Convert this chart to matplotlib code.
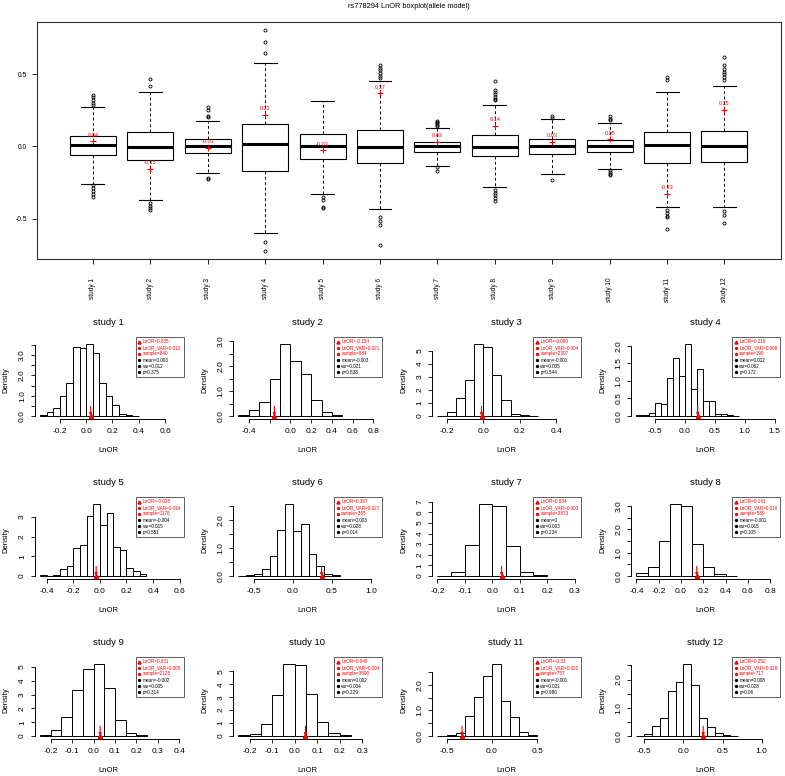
import numpy as np
import matplotlib.pyplot as plt
from matplotlib.lines import Line2D

plt.rcParams['font.family'] = ['Liberation Sans', 'DejaVu Sans']

studies = ['study %d' % i for i in range(1, 13)]

# observed LnOR per study and the permutation summary shown in each legend
lnor = [0.035, -0.154, -0.009, 0.219, -0.028, 0.367, 0.034, 0.141, 0.031, 0.048, -0.33, 0.252]
lnor_var = [0.012, 0.021, 0.004, 0.068, 0.014, 0.027, 0.003, 0.016, 0.005, 0.004, 0.022, 0.028]
sample = [840, 884, 2307, 190, 1176, 365, 3873, 589, 2125, 3690, 757, 717]
perm_mean = [0.003, -0.003, -0.001, 0.012, -0.004, 0.003, 0, -0.001, -0.002, 0.002, -0.001, 0.008]
perm_var = [0.012, 0.021, 0.005, 0.062, 0.015, 0.028, 0.003, 0.015, 0.005, 0.004, 0.021, 0.028]
pval = [0.375, 0.838, 0.544, 0.172, 0.551, 0.014, 0.234, 0.105, 0.314, 0.229, 0.986, 0.06]

# boxplot summary of the permuted LnOR
q1 = [-0.062, -0.092, -0.046, -0.173, -0.085, -0.113, -0.037, -0.069, -0.053, -0.041, -0.118, -0.11]
med = [0.012, -0.005, 0.0, 0.018, 0.0, -0.005, 0.0, -0.002, 0.0, 0.0, 0.012, 0.005]
q3 = [0.069, 0.097, 0.048, 0.152, 0.083, 0.113, 0.032, 0.076, 0.048, 0.041, 0.097, 0.11]
whislo = [-0.258, -0.369, -0.182, -0.60, -0.327, -0.435, -0.134, -0.283, -0.194, -0.154, -0.42, -0.417]
whishi = [0.27, 0.38, 0.175, 0.576, 0.313, 0.452, 0.131, 0.288, 0.19, 0.164, 0.376, 0.42]
fliers = [
    [0.29, 0.30, 0.32, 0.34, 0.355, -0.27, -0.29, -0.31, -0.33, -0.35],
    [0.42, 0.465, -0.39, -0.41, -0.43, -0.44],
    [0.205, 0.21, 0.25, 0.27, -0.22, -0.225],
    [0.65, 0.726, 0.806, -0.664, -0.723],
    [-0.35, -0.37, -0.42, -0.43],
    [0.475, 0.49, 0.51, 0.53, 0.545, 0.562, -0.486, -0.516, -0.544, -0.682],
    [0.14, 0.15, 0.16, 0.17, 0.177, -0.14, -0.17],
    [0.32, 0.33, 0.345, 0.36, 0.375, 0.39, 0.454, -0.30, -0.32, -0.34, -0.36, -0.38],
    [0.20, 0.21, -0.23],
    [0.18, 0.19, 0.21, -0.165, -0.18, -0.19, -0.20],
    [0.463, 0.484, -0.44, -0.46, -0.48, -0.49, -0.574],
    [0.459, 0.479, 0.5, 0.518, 0.539, 0.562, 0.622, -0.445, -0.475, -0.53],
]

# histogram densities (first break, bin width, densities)
hist_start = [-0.35, -0.5, -0.25, -0.8, -0.45, -0.7, -0.2, -0.4, -0.25, -0.25, -0.6, -0.6]
hist_width = [0.05, 0.1, 0.05, 0.1, 0.05, 0.1, 0.05, 0.1, 0.05, 0.05, 0.1, 0.1]
hist_dens = [
    [0.05, 0.2, 0.38, 0.98, 1.64, 3.41, 3.33, 3.56, 3.13, 1.62, 1.0, 0.54, 0.08, 0.05, 0.02],
    [0.04, 0.25, 0.55, 1.5, 2.9, 2.22, 1.7, 0.65, 0.15, 0.03],
    [0.03, 0.3, 1.42, 2.79, 5.56, 5.33, 3.12, 1.24, 0.15, 0.08, 0.03],
    [0.02, 0.03, 0.1, 0.36, 0.34, 1.08, 1.66, 1.14, 2.06, 0.76, 1.35, 0.44, 0.44, 0.07, 0.07, 0.03, 0.01],
    [0.03, 0.02, 0.05, 0.34, 0.5, 1.43, 1.6, 3.04, 3.68, 2.61, 3.2, 1.5, 1.35, 0.39, 0.24, 0.08],
    [0.01, 0.03, 0.07, 0.24, 0.7, 1.66, 2.58, 1.62, 1.87, 0.78, 0.34, 0.07, 0.03],
    [0.01, 0.38, 2.95, 6.8, 6.6, 2.8, 0.38, 0.08],
    [0.13, 0.37, 1.51, 3.1, 2.99, 1.39, 0.37, 0.09, 0.02],
    [0.05, 0.43, 1.39, 3.32, 4.88, 5.24, 3.49, 1.13, 0.19, 0.07],
    [0.05, 0.13, 0.92, 3.2, 5.59, 5.51, 3.23, 1.1, 0.23, 0.05],
    [0.02, 0.05, 0.12, 0.8, 1.53, 2.37, 2.83, 1.36, 0.75, 0.14, 0.04],
    [0.01, 0.06, 0.34, 0.65, 1.61, 1.92, 2.56, 1.8, 0.64, 0.32, 0.09, 0.04, 0.01],
]
hist_xmax = [0.69, 0.82, 0.50, 1.48, 0.58, 1.06, 0.30, 0.83, 0.39, 0.36, 0.91, 1.15]
xstep = [0.2, 0.2, 0.2, 0.5, 0.2, 0.5, 0.1, 0.2, 0.1, 0.1, 0.5, 0.5]
x_hidden = {1: [-0.2]}
ystep = [0.5, 0.5, 1, 0.5, 1, 0.5, 1, 0.5, 1, 1, 0.5, 0.5]
y_label_every = [2, 2, 1, 1, 1, 2, 1, 2, 1, 1, 2, 2]
yfmt = ['%.1f', '%.1f', '%d', '%.1f', '%d', '%.1f', '%d', '%.1f', '%d', '%d', '%.1f', '%.1f']

W, H = 785, 776
fig = plt.figure(figsize=(W / 100, H / 100), dpi=100)


def px_axes(left, top, width, height):
    return fig.add_axes([left / W, 1 - (top + height) / H, width / W, height / H])


# ---- boxplot
ax = px_axes(36.7, 22, 744, 237)
pos = np.arange(1, 13)
stats = []
for i in range(12):
    stats.append(dict(med=med[i], q1=q1[i], q3=q3[i], whislo=whislo[i], whishi=whishi[i],
                      fliers=fliers[i], label=studies[i]))
ax.bxp(stats, positions=pos, widths=0.8, capwidths=0.4, patch_artist=True,
       boxprops=dict(facecolor='white', edgecolor='black', linewidth=0.8),
       medianprops=dict(color='black', linewidth=2.2, solid_capstyle='butt'),
       whiskerprops=dict(color='black', linewidth=0.7, linestyle=(0, (3, 2.5))),
       capprops=dict(color='black', linewidth=0.8),
       flierprops=dict(marker='o', markersize=2.2, markerfacecolor='none',
                       markeredgecolor='black', markeredgewidth=0.6))
ax.plot(pos, lnor, '+', color='red', ms=5, mew=0.8, zorder=5)
for p, v in zip(pos, lnor):
    ax.annotate('%.2f' % v, (p, v), xytext=(0, 4.5), textcoords='offset points',
                ha='center', va='center', color='red', fontsize=4)
ax.set_xlim(0.02, 12.98)
ax.set_ylim(-0.78, 0.862)
ax.set_yticks([-0.5, 0.0, 0.5])
ax.set_yticklabels(['-0.5', '0.0', '0.5'])
ax.set_xticks(pos)
ax.set_xticklabels(studies, rotation=90)
ax.tick_params(axis='y', labelsize=4.8, length=3.5, width=0.6, pad=3.5)
ax.tick_params(axis='x', labelsize=4.7, length=3.5, width=0.6, pad=10)
for s in ax.spines.values():
    s.set_linewidth(0.8)
    s.set_color('#333333')
fig.text((36.7 + 372) / W, 1 - 6 / H, 'rs778294 LnOR boxplot(allele model)',
         ha='center', va='center', fontsize=5.3)

# ---- histograms
col_left = [34.5, 233, 432, 631]
row_bottom = [418.9, 578.9, 738.9]
pw, ph = 148, 78

for i in range(12):
    r, c = divmod(i, 4)
    ax = px_axes(col_left[c], row_bottom[r] - ph, pw, ph)
    dens = np.array(hist_dens[i])
    edges = hist_start[i] + hist_width[i] * np.arange(len(dens) + 1)
    ax.bar(edges[:-1], dens, width=hist_width[i], align='edge', facecolor='white',
           edgecolor='black', linewidth=0.7)

    lo, hi = hist_start[i], hist_xmax[i]
    pad = 0.04 * (hi - lo)
    ax.set_xlim(lo - pad, hi + pad)
    ymax = dens.max()
    ax.set_ylim(-0.04 * ymax, 1.04 * ymax)

    xs = xstep[i]
    xt = np.arange(np.ceil((lo - pad) / xs - 1e-9), np.floor((hi + pad) / xs + 1e-9) + 1) * xs
    xt = np.round(xt, 3)
    ax.set_xticks(xt)
    hidden = x_hidden.get(i, [])
    ax.set_xticklabels(['' if any(abs(t - h) < 1e-6 for h in hidden) else ('%g' % t if t != 0 else '0.0')
                        for t in xt])
    ax.set_xticklabels([lab if lab == '' else ('%.1f' % t) for lab, t in
                        zip([tl.get_text() for tl in ax.get_xticklabels()], xt)])

    ys = ystep[i]
    yt = np.arange(0, np.floor(1.04 * ymax / ys + 1e-9) + 1) * ys
    ax.set_yticks(yt)
    ax.set_yticklabels([(yfmt[i] % t) if k % y_label_every[i] == 0 else ''
                        for k, t in enumerate(yt)])

    ax.spines['top'].set_visible(False)
    ax.spines['right'].set_visible(False)
    ax.spines['left'].set_bounds(yt[0], yt[-1])
    ax.spines['bottom'].set_bounds(xt[0], xt[-1])
    for s in ('left', 'bottom'):
        ax.spines[s].set_linewidth(0.7)
    ax.tick_params(axis='x', labelsize=6, length=2.9, width=0.6, pad=3.8)
    ax.tick_params(axis='y', labelsize=6, length=2.9, width=0.6, pad=3.2, labelrotation=90)
    for tl in ax.get_yticklabels():
        tl.set_verticalalignment('center')

    ax.set_ylabel('Density', fontsize=5.5)
    ax.yaxis.set_label_coords(-25 / pw, 0.5)
    ax.set_xlabel('LnOR', fontsize=5.5)
    ax.xaxis.set_label_coords(0.5, -28 / ph)
    ax.text(0.5, 1 + 18 / ph, studies[i], transform=ax.transAxes, ha='center',
            va='center', fontsize=6.8)

    # observed LnOR marker
    ax.annotate('', xy=(lnor[i], 0), xytext=(0, 7), textcoords='offset points',
                arrowprops=dict(arrowstyle='-|>', color='red', lw=0.8, mutation_scale=4,
                                shrinkA=0, shrinkB=0))
    ax.plot(lnor[i], 0, '^', color='red', ms=3, clip_on=False, zorder=6)

    labels = ['LnOR=%g' % lnor[i], 'LnOR_VAR=%g' % lnor_var[i], 'sample=%d' % sample[i],
              'mean=%g' % perm_mean[i], 'var=%g' % perm_var[i], 'p=%g' % pval[i]]
    colors = ['red', 'red', 'red', 'black', 'black', 'black']
    markers = ['^', 'o', 'o', 'o', 'o', 'o']
    sizes = [2.2, 1.4, 1.4, 1.4, 1.4, 1.4]
    handles = [Line2D([], [], linestyle='none', marker=m, color=col, ms=sz)
               for m, col, sz in zip(markers, colors, sizes)]
    leg = ax.legend(handles, labels, loc='upper right', bbox_to_anchor=(1 + 1 / pw, 1 + 4 / ph),
                    fontsize=3.3, frameon=True, fancybox=False, framealpha=1,
                    edgecolor='#444444', handlelength=0.6, handletextpad=0.5,
                    labelspacing=0.25, borderpad=0.5, borderaxespad=0)
    leg.get_frame().set_linewidth(0.6)
    for t, col in zip(leg.get_texts(), colors):
        t.set_color(col)

fig.savefig('out.png', dpi=100)
